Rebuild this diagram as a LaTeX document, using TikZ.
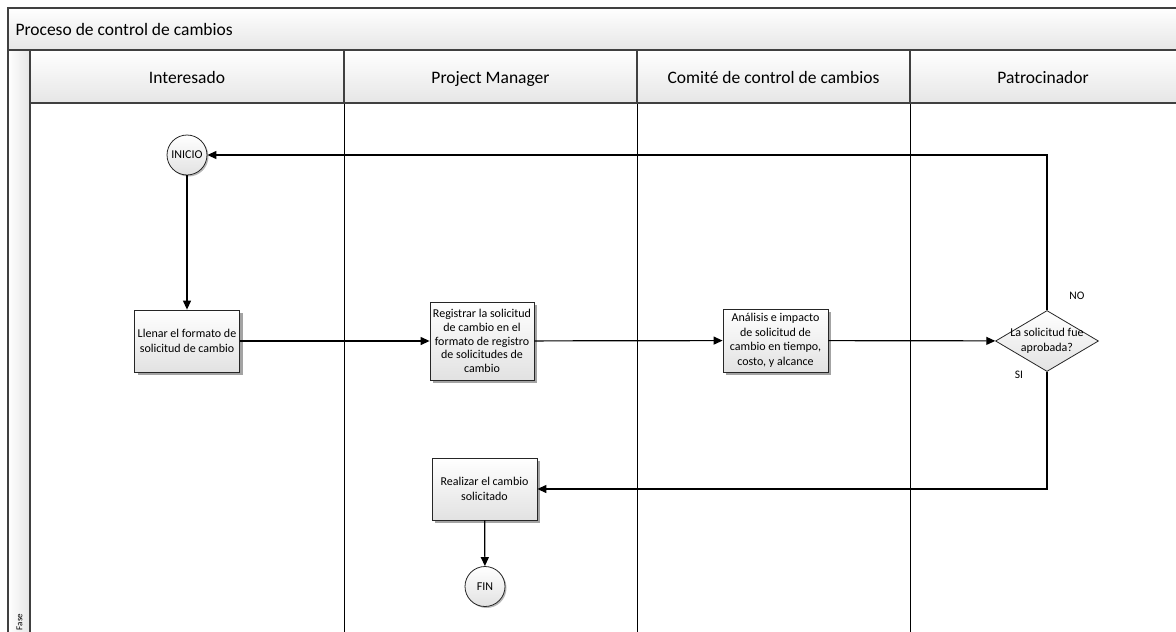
\documentclass[tikz,border=0pt]{standalone}
\usepackage{fontspec}
\setmainfont{Carlito}
\usetikzlibrary{shapes.geometric,shadows,arrows.meta}
\definecolor{framecol}{HTML}{404040}
\definecolor{fillbot}{HTML}{E2E2E2}
\definecolor{barbot}{HTML}{E6E6E6}
\begin{document}
\begin{tikzpicture}[x=1pt,y=-1pt,
  txt/.style={font=\fontsize{12}{14.5}\selectfont, align=center},
  proc/.style={txt, draw=black!85, line width=0.8pt, rectangle, minimum width=105pt, minimum height=62pt, inner sep=1pt, top color=white, bottom color=fillbot, drop shadow={shadow xshift=3pt, shadow yshift=-3pt, fill=black!45, opacity=0.8}},
  term/.style={circle, draw=black!85, line width=0.8pt, minimum size=40pt, inner sep=0pt, top color=white, bottom color=fillbot, drop shadow={shadow xshift=1.5pt, shadow yshift=-1.5pt, fill=black!35, opacity=0.8}},
  decis/.style={diamond, draw=black!85, line width=0.8pt, minimum width=103pt, minimum height=61pt, inner sep=0pt, top color=white, bottom color=fillbot},
  conn/.style={line width=1.2pt, -{Triangle[length=9pt,width=8pt]}},
  lane/.style={draw=black, line width=1pt},
  hdr/.style={font=\fontsize{17.5}{20}\selectfont, anchor=base},
  lbl/.style={font=\fontsize{11.5}{13}\selectfont}
]
\useasboundingbox (0,0) rectangle (1176,632);
\begin{scope}
\clip (0,0) rectangle (1176,632);
\shade[top color=white, bottom color=barbot] (8,8) rectangle (1190,50);
\shade[top color=white, bottom color=barbot] (30,50) rectangle (1190,103);
\shade[left color=white, right color=barbot] (8,50) rectangle (30,640);
\draw[lane] (344,103) -- (344,640);
\draw[lane] (637,103) -- (637,640);
\draw[lane] (910,103) -- (910,640);
\draw[draw=framecol, line width=1.4pt] (344,50) -- (344,103);
\draw[draw=framecol, line width=1.4pt] (637,50) -- (637,103);
\draw[draw=framecol, line width=1.4pt] (910,50) -- (910,103);
\draw[draw=framecol, line width=1.4pt] (30,50) -- (30,640);
\draw[draw=framecol, line width=1.4pt] (1190,8) -- (8,8) -- (8,640);
\draw[draw=framecol, line width=1.4pt] (8,50) -- (1190,50);
\draw[draw=framecol, line width=1.4pt] (30,103) -- (1190,103);
\end{scope}

\node[hdr, anchor=base west] (title) at (12,35) {Proceso de control de cambios};
\node[hdr] (h1) at (187,83) {Interesado};
\node[hdr] (h2) at (490.5,83) {Project Manager};
\node[hdr] (h3) at (773.5,83) {Comité de control de cambios};
\node[hdr] (h4) at (1043,83) {Patrocinador};
\node[font=\fontsize{9}{10}\selectfont, rotate=90] (fase) at (19.5,622) {Fase};

\node[term, font=\fontsize{12}{14}\selectfont] (inicio) at (187,155) {INICIO};
\node[proc] (llenar) at (187,341) {Llenar el formato de\\solicitud de cambio};
\node[proc, minimum height=78pt, minimum width=104pt, font=\fontsize{12}{13.8}\selectfont] (registrar) at (482,341) {Registrar la solicitud\\de cambio en el\\formato de registro\\de solicitudes de\\cambio};
\node[proc, minimum height=63pt] (analisis) at (775.5,340.5) {Análisis e impacto\\de solicitud de\\cambio en tiempo,\\costo, y alcance};
\node[decis, label={[txt]center:{La solicitud fue\\aprobada?}}] (dec) at (1047,341) {};
\node[proc] (realizar) at (484.5,489) {Realizar el cambio\\solicitado};
\node[term, font=\fontsize{12}{14}\selectfont] (fin) at (485,586.5) {FIN};

\node[lbl] (no) at (1077,296) {NO};
\node[lbl] (si) at (1019,375) {SI};

\draw[conn] (inicio) -- (llenar);
\draw[conn] (llenar) -- (registrar);
\draw[conn] (registrar) -- (analisis);
\draw[conn] (analisis) -- (dec);
\draw[conn] (dec.north) |- (inicio.east);
\draw[conn] (dec.south) |- (realizar.east);
\draw[conn] (realizar) -- (fin);
\end{tikzpicture}
\end{document}
